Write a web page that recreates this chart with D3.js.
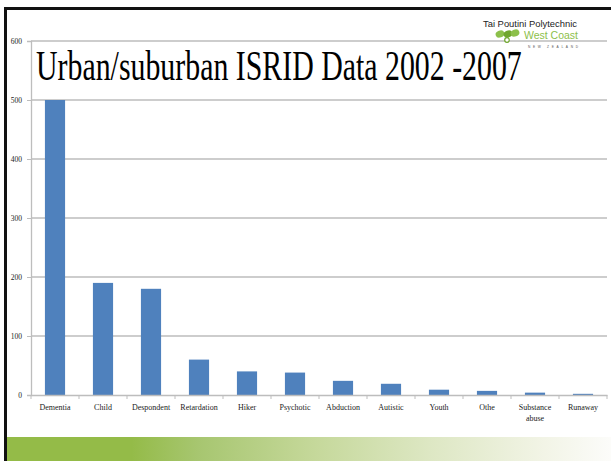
<!DOCTYPE html>
<html><head><meta charset="utf-8">
<script src="https://cdn.jsdelivr.net/npm/d3@7"></script>
<style>body{margin:0;background:#fff}svg{display:block}</style>
</head><body>
<script>
const categories = ["Dementia","Child","Despondent","Retardation","Hiker","Psychotic","Abduction","Autistic","Youth","Othe","Substance abuse","Runaway"];
const values = [500,190,180,60,40,38,24,19,9,7,4,2];
const yTicks = [0,100,200,300,400,500,600];
const title = "Urban/suburban ISRID Data 2002 -2007";

const W = 611, H = 461;
const svg = d3.select("body").append("svg").attr("width", W).attr("height", H);

// bottom gradient band
const defs = svg.append("defs");
const grad = defs.append("linearGradient").attr("id","g").attr("x1","0").attr("x2","1");
[[0,"#94bb48"],[0.21,"#94bb48"],[0.32,"#a7c670"],[0.51,"#c5d89a"],[0.7,"#dde7c3"],[0.89,"#f2f4e6"],[1,"#fcfcfa"]]
  .forEach(([o,c]) => grad.append("stop").attr("offset",o).attr("stop-color",c));
svg.append("rect").attr("x",4).attr("y",437).attr("width",W-4).attr("height",24).attr("fill","url(#g)");

// frame borders
svg.append("rect").attr("x",4).attr("y",7).attr("width",W-4).attr("height",3).attr("fill","#111");
svg.append("rect").attr("x",4).attr("y",7).attr("width",3).attr("height",H-7).attr("fill","#111");

const x = d3.scaleBand().domain(categories).range([31,607]).paddingInner(0.58).paddingOuter(0.29);
const xb = d3.scaleBand().domain(categories).range([31,607]);
const y = d3.scaleLinear().domain([0,600]).range([395,41]);

// gridlines
svg.append("g").selectAll("line").data(yTicks.filter(d=>d>0)).join("line")
  .attr("x1",31).attr("x2",607).attr("y1",d=>y(d)).attr("y2",d=>y(d))
  .attr("stroke","#bdbdbd").attr("stroke-width",1.3);

// y axis
const yAxis = svg.append("g").attr("transform","translate(31,0)").attr("color","#222")
  .call(d3.axisLeft(y).tickValues(yTicks).tickSize(4).tickPadding(5));
yAxis.select(".domain").attr("stroke","#bdbdbd").attr("stroke-width",1.3);
yAxis.selectAll(".tick line").attr("stroke","#bdbdbd");
yAxis.selectAll("text").attr("font-family","'Liberation Serif', serif").attr("font-size",7.5).attr("fill","#222");

// bars
svg.append("g").selectAll("rect").data(values).join("rect")
  .attr("x",(d,i)=>x(categories[i])).attr("width",x.bandwidth())
  .attr("y",d=>y(d)).attr("height",d=>y(0)-y(d)).attr("fill","#4f81bd");

// x axis
const xAxis = svg.append("g").attr("transform","translate(0,395)").attr("color","#222")
  .call(d3.axisBottom(xb).tickSize(0).tickPadding(9));
xAxis.select(".domain").attr("stroke","#bdbdbd").attr("stroke-width",1.3);
xAxis.selectAll("text").attr("font-family","'Liberation Serif', serif").attr("font-size",8).attr("fill","#222")
  .each(function(d){
    const t = d3.select(this); const parts = d.split(" ");
    if (parts.length > 1) {
      t.text(null);
      parts.forEach((p,i)=> t.append("tspan").attr("x",0).attr("dy", i===0 ? "0.71em" : "1.45em").attr("fill","#222").text(p));
    }
  });
// boundary ticks
svg.append("g").selectAll("line").data(categories.concat(["end"])).join("line")
  .attr("x1",(d,i)=>31+i*xb.step()).attr("x2",(d,i)=>31+i*xb.step())
  .attr("y1",395).attr("y2",399).attr("stroke","#bdbdbd");

// title (horizontally condensed to match the reference)
const tg = svg.append("g");
const tt = tg.append("text").attr("x",0).attr("y",0)
  .attr("font-family","'Liberation Serif', 'Times New Roman', serif").attr("font-size",42).attr("fill","#000")
  .text(title);
const natural = tt.node().getComputedTextLength();
tg.attr("transform",`translate(36,80) scale(${486/natural},1)`);

// logo
const lg = svg.append("g");
lg.append("text").attr("x",577).attr("y",27).attr("text-anchor","end")
  .attr("font-family","'Liberation Sans', Arial, sans-serif").attr("font-size",8.5)
  .attr("fill","#222").attr("textLength",94).attr("lengthAdjust","spacingAndGlyphs").text("Tai Poutini Polytechnic");
lg.append("text").attr("x",578).attr("y",39).attr("text-anchor","end")
  .attr("font-family","'Liberation Sans', Arial, sans-serif").attr("font-size",11.5)
  .attr("fill","#8cc04a").attr("textLength",54).attr("lengthAdjust","spacingAndGlyphs").text("West Coast");
lg.append("text").attr("x",578).attr("y",48).attr("text-anchor","end")
  .attr("font-family","'Liberation Sans', Arial, sans-serif").attr("font-size",3.2)
  .attr("fill","#555").attr("textLength",50).attr("lengthAdjust","spacing").text("NEW ZEALAND");
// leaf mark
[[500,34],[508,34],[515,33]].forEach(([cx,cy],i)=>{
  lg.append("ellipse").attr("cx",cx).attr("cy",cy).attr("rx",4.5).attr("ry",3.5)
    .attr("fill", i===1 ? "#6fa62c" : "#8cc04a").attr("transform",`rotate(-20 ${cx} ${cy})`);
});
lg.append("circle").attr("cx",507).attr("cy",40).attr("r",2.3).attr("fill","#fff").attr("stroke","#6fa62c").attr("stroke-width",1.2);
</script>
</body></html>
